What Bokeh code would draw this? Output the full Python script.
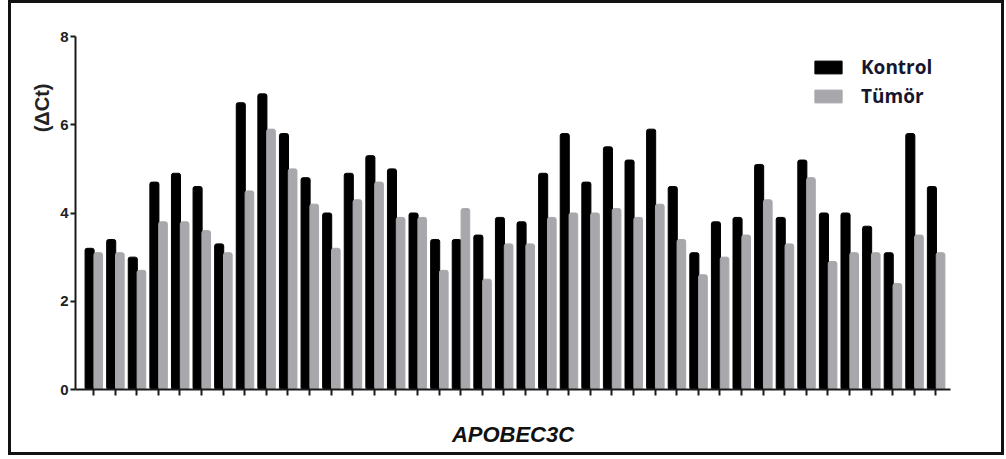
from bokeh.plotting import figure
from bokeh.models import (Range1d, FixedTicker, Legend, LegendItem, Title, ColumnDataSource)
from bokeh.embed import file_html
from bokeh.resources import INLINE

# ---- data ----
samples = list(range(1, 41))
kontrol = [3.2, 3.4, 3.0, 4.7, 4.9, 4.6, 3.3, 6.5, 6.7, 5.8,
           4.8, 4.0, 4.9, 5.3, 5.0, 4.0, 3.4, 3.4, 3.5, 3.9,
           3.8, 4.9, 5.8, 4.7, 5.5, 5.2, 5.9, 4.6, 3.1, 3.8,
           3.9, 5.1, 3.9, 5.2, 4.0, 4.0, 3.7, 3.1, 5.8, 4.6]
tumor = [3.1, 3.1, 2.7, 3.8, 3.8, 3.6, 3.1, 4.5, 5.9, 5.0,
         4.2, 3.2, 4.3, 4.7, 3.9, 3.9, 2.7, 4.1, 2.5, 3.3,
         3.3, 3.9, 4.0, 4.0, 4.1, 3.9, 4.2, 3.4, 2.6, 3.0,
         3.5, 4.3, 3.3, 4.8, 2.9, 3.1, 3.1, 2.4, 3.5, 3.1]
y_ticks = [0, 2, 4, 6, 8]
series_names = ["Kontrol", "Tümör"]
gene = "APOBEC3C"
y_title = "(ΔCt)"

src = ColumnDataSource(dict(
    xk=[s - 0.18 for s in samples],
    xt=[s + 0.22 for s in samples],
    k=kontrol, t=tumor))

W, H = 996, 455
p = figure(width=W, height=H, output_backend="svg", toolbar_location=None,
           x_range=Range1d(0.167, 40.68), y_range=Range1d(0, 8),
           min_border_left=67, min_border_right=54,
           min_border_top=36, min_border_bottom=66)
p.outline_line_color = None
p.grid.visible = False
p.background_fill_color = "white"
p.border_fill_color = None

axis_color = "#1a1a1a"

rk = p.vbar(x="xk", top="k", bottom=0, width=0.42, source=src,
            fill_color="black", line_color="black", line_width=1,
            border_radius=2)
rt = p.vbar(x="xt", top="t", bottom=0, width=0.40, source=src,
            fill_color="#a7a7ac", line_color="#a7a7ac", line_width=1,
            border_radius=2)

# x axis
xa = p.xaxis[0]
xa.ticker = FixedTicker(ticks=samples)
xa.major_label_overrides = {s: "" for s in samples}
xa.major_label_standoff = 0
xa.major_tick_out = 6
xa.major_tick_in = 0
xa.minor_tick_line_color = None
xa.major_tick_line_width = 2
xa.major_tick_line_color = axis_color
xa.axis_line_width = 2
xa.axis_line_color = axis_color
xa.axis_label = gene
xa.axis_label_text_font = "Liberation Sans"
xa.axis_label_text_font_style = "bold italic"
xa.axis_label_text_font_size = "22px"
xa.axis_label_text_color = "#111111"
xa.axis_label_standoff = 26

# y axis
ya = p.yaxis[0]
ya.ticker = FixedTicker(ticks=y_ticks)
ya.major_tick_out = 5
ya.major_tick_in = 0
ya.minor_tick_line_color = None
ya.major_tick_line_width = 2
ya.major_tick_line_color = axis_color
ya.axis_line_width = 2
ya.axis_line_color = axis_color
ya.major_label_text_font = "Liberation Sans"
ya.major_label_text_font_style = "bold"
ya.major_label_text_font_size = "15px"
ya.major_label_text_color = "#222222"
ya.major_label_standoff = 2

# y title placed near the top of the axis, as in the reference
p.add_layout(Title(text=y_title, align="right", offset=47, standoff=9,
                   text_font="Liberation Sans", text_font_style="bold",
                   text_font_size="20px", text_color="#222222"), "left")

legend = Legend(items=[LegendItem(label=series_names[0], renderers=[rk]),
                       LegendItem(label=series_names[1], renderers=[rt])],
                location=(736, 280), orientation="vertical",
                glyph_width=34, glyph_height=16, spacing=3,
                label_standoff=16, padding=0, margin=0,
                border_line_color=None, background_fill_alpha=0,
                label_text_font="Open Sans", label_text_font_style="bold",
                label_text_font_size="19px", label_text_color="#16162e",
                label_height=16)
p.add_layout(legend)

# outer frame of the figure (drawn over the element edge, no layout effect)
p.styles = {"margin-left": "8px", "outline": "3px solid #111111",
            "outline-offset": "-3px", "background-color": "white"}

open("out.html", "w").write(file_html(p, INLINE))
